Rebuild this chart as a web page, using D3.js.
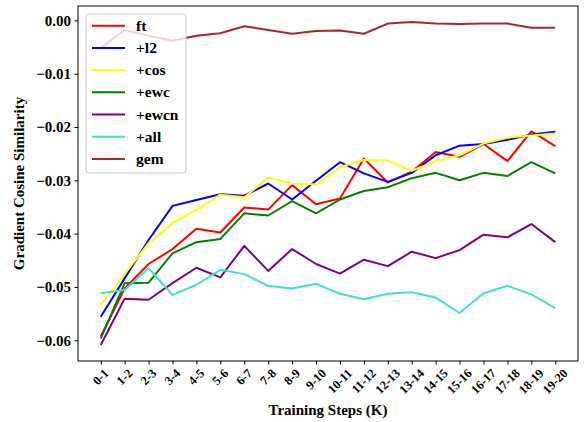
<!DOCTYPE html>
<head>
  <meta charset="utf-8">
  <title>Gradient Cosine Similarity</title>
  <style>
    body { margin: 0; background: #fff; }
    text { font-family: "Liberation Serif", "Times New Roman", serif; font-weight: bold; fill: #000; }
  </style>
</head>
<body>
  <script src="https://cdn.jsdelivr.net/npm/d3@7"></script>
  <script>
    // data
    var categories = ["0-1","1-2","2-3","3-4","4-5","5-6","6-7","7-8","8-9","9-10",
                      "10-11","11-12","12-13","13-14","14-15","15-16","16-17","17-18","18-19","19-20"];
    var ft   = [-0.0593,-0.0503,-0.0457,-0.0429,-0.0391,-0.0398,-0.0351,-0.0355,-0.0309,-0.0345,
                -0.0334,-0.0259,-0.0304,-0.0284,-0.0247,-0.0256,-0.0232,-0.0264,-0.0208,-0.0236];
    var l2   = [-0.0556,-0.0484,-0.0412,-0.0348,-0.0337,-0.0326,-0.0329,-0.0306,-0.0336,-0.0301,
                -0.0266,-0.0287,-0.0303,-0.0286,-0.0253,-0.0235,-0.0232,-0.0224,-0.0214,-0.0209];
    var cos  = [-0.0534,-0.0476,-0.0418,-0.0380,-0.0355,-0.0327,-0.0332,-0.0295,-0.0306,-0.0308,
                -0.0275,-0.0262,-0.0263,-0.0282,-0.0264,-0.0253,-0.0231,-0.0220,-0.0216,-0.0212];
    var ewc  = [-0.0597,-0.0493,-0.0492,-0.0437,-0.0416,-0.0410,-0.0362,-0.0366,-0.0339,-0.0362,
                -0.0336,-0.0320,-0.0313,-0.0296,-0.0286,-0.0300,-0.0286,-0.0292,-0.0266,-0.0287];
    var ewcn = [-0.0609,-0.0522,-0.0524,-0.0493,-0.0464,-0.0482,-0.0423,-0.0470,-0.0429,-0.0457,
                -0.0475,-0.0449,-0.0461,-0.0434,-0.0446,-0.0431,-0.0402,-0.0407,-0.0382,-0.0416];
    var all  = [-0.0512,-0.0506,-0.0465,-0.0515,-0.0496,-0.0468,-0.0476,-0.0498,-0.0503,-0.0494,
                -0.0513,-0.0523,-0.0513,-0.0510,-0.0520,-0.0549,-0.0512,-0.0498,-0.0514,-0.0540];
    var gem  = [-0.0052,-0.0018,-0.0029,-0.0038,-0.0029,-0.0024,-0.0011,-0.0018,-0.0025,-0.0020,
                -0.0019,-0.0025,-0.0006,-0.0003,-0.0006,-0.0007,-0.0006,-0.0006,-0.0014,-0.0014];
    var yTicks = [0, -0.01, -0.02, -0.03, -0.04, -0.05, -0.06];

    var seriesNames  = ["ft", "+l2", "+cos", "+ewc", "+ewcn", "+all", "gem"];
    var seriesValues = [ft, l2, cos, ewc, ewcn, all, gem];
    var seriesColors = ["red", "blue", "yellow", "green", "purple", "turquoise", "brown"];

    // dimensions of the plot area
    var w = 585, h = 422;
    var x0 = 78, x1 = 578, y0 = 6, y1 = 361;

    var svg = d3.select("body").append("svg").attr("width", w).attr("height", h);

    var x = d3.scalePoint().domain(categories).range([x0, x1]).padding(0.95);
    var y = d3.scaleLinear().domain([-0.0639, 0.0027]).range([y1, y0]);

    // lines
    var line = d3.line()
      .x(function(d, i) { return x(categories[i]); })
      .y(function(d) { return y(d); });

    seriesValues.forEach(function(vals, k) {
      svg.append("path")
        .datum(vals)
        .attr("fill", "none")
        .attr("stroke", seriesColors[k])
        .attr("stroke-width", 2)
        .attr("stroke-linejoin", "round")
        .attr("d", line);
    });

    // y axis
    var fmt = d3.format(".2f");
    var yAxis = d3.axisLeft(y).tickValues(yTicks)
      .tickFormat(function(d) { return fmt(d).replace("-", "\u2212"); })
      .tickSize(3.5).tickPadding(3.5);
    var gy = svg.append("g").attr("transform", "translate(" + x0 + ",0)").call(yAxis);
    gy.select(".domain").remove();
    gy.attr("font-family", null).attr("font-size", null);
    gy.selectAll("text").style("font-size", "15px");
    gy.selectAll("line").attr("stroke", "#000");

    // x axis ticks
    var xAxis = d3.axisBottom(x).tickSize(3.5).tickFormat("");
    var gx = svg.append("g").attr("transform", "translate(0," + y1 + ")").call(xAxis);
    gx.select(".domain").remove();
    gx.selectAll("line").attr("stroke", "#000");

    // rotated x tick labels, centred under each tick
    var xl = svg.append("g").selectAll("text")
      .data(categories)
      .enter()
      .append("text")
      .style("font-size", "12.5px")
      .attr("text-anchor", "middle")
      .attr("dominant-baseline", "central")
      .text(function(d) { return d; });
    xl.each(function(d) {
      var len = this.getComputedTextLength();
      var half = (len + 9) * 0.7071 / 2;
      var cx = x(d), cy = y1 + 7 + half;
      d3.select(this).attr("x", cx).attr("y", cy)
        .attr("transform", "rotate(-45," + cx + "," + cy + ")");
    });

    // frame
    svg.append("rect")
      .attr("x", x0).attr("y", y0)
      .attr("width", x1 - x0).attr("height", y1 - y0)
      .attr("fill", "none").attr("stroke", "#000").attr("stroke-width", 1);

    // axis titles
    svg.append("text")
      .attr("x", (x0 + x1) / 2)
      .attr("y", 415)
      .attr("text-anchor", "middle")
      .style("font-size", "15px")
      .text("Training Steps (K)");

    svg.append("text")
      .attr("transform", "translate(24," + ((y0 + y1) / 2) + ") rotate(-90)")
      .attr("text-anchor", "middle")
      .style("font-size", "15px")
      .text("Gradient Cosine Similarity");

    // legend
    var lg = svg.append("g");
    lg.append("rect")
      .attr("x", 86).attr("y", 14).attr("width", 100).attr("height", 159)
      .attr("rx", 3)
      .attr("fill", "#fff").attr("fill-opacity", 0.8)
      .attr("stroke", "#ccc").attr("stroke-width", 1);
    seriesNames.forEach(function(name, k) {
      var ry = 25.7 + k * 22.2;
      lg.append("line")
        .attr("x1", 92).attr("x2", 125).attr("y1", ry).attr("y2", ry)
        .attr("stroke", seriesColors[k]).attr("stroke-width", 2);
      lg.append("text")
        .attr("x", 136).attr("y", ry + 5)
        .style("font-size", "15.5px")
        .text(name);
    });
  </script>
</body>
